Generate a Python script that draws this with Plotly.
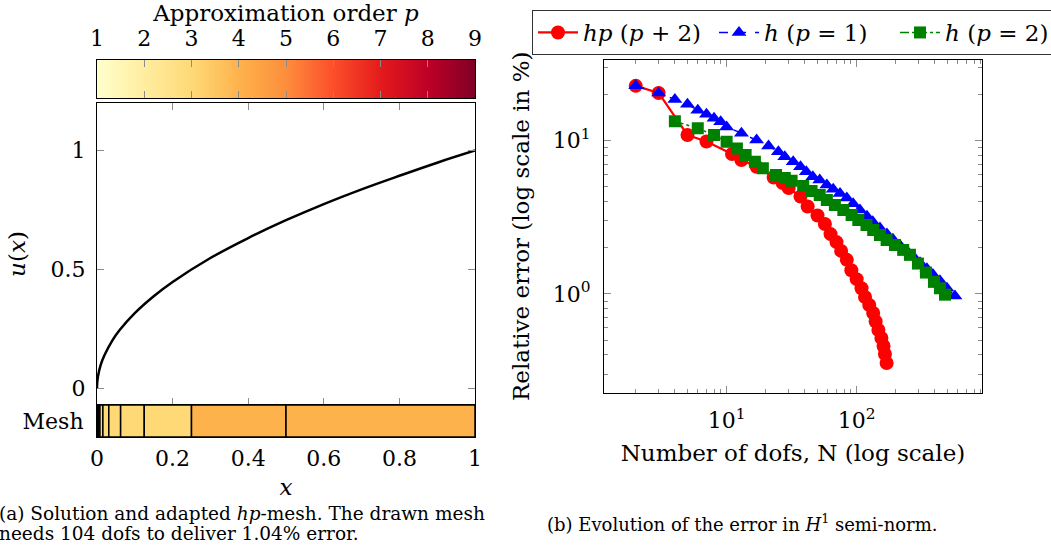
import plotly.graph_objects as go

W, H = 1051, 547
FONT = "DejaVu Serif"

# ---------------- data ----------------
p_levels = [1, 2, 3, 4, 5, 6, 7, 8, 9]

x_sol = [0, 0.0005, 0.0025, 0.01, 0.02, 0.04, 0.06, 0.1, 0.15, 0.2, 0.3, 0.4, 0.5, 0.6, 0.7, 0.8, 0.9, 1.0]
u_sol = [0, 0.022, 0.05, 0.10, 0.14, 0.20, 0.245, 0.316, 0.387, 0.447, 0.548, 0.632, 0.707, 0.775, 0.837, 0.894, 0.949, 1.0]

mesh_left = [0, 0.001953, 0.003906, 0.007813, 0.015625, 0.03125, 0.0625, 0.125, 0.25, 0.5]
mesh_right = [0.001953, 0.003906, 0.007813, 0.015625, 0.03125, 0.0625, 0.125, 0.25, 0.5, 1.0]
mesh_p = [2, 3, 3, 3, 3, 3, 3, 3, 4, 4]

hp_N = [2, 3, 5, 7, 11, 13, 17, 23, 27, 30, 37, 42, 50, 57, 63, 70, 76, 84, 91, 100,
        109, 116, 125, 134, 140, 147, 155, 161, 165, 170]
hp_E = [22.8, 20.5, 10.9, 9.88, 8.19, 7.48, 6.77, 5.75, 5.30, 4.91, 4.32, 3.72, 3.25, 2.86, 2.46,
        2.18, 1.91, 1.67, 1.43, 1.25, 1.09, 0.955, 0.847, 0.751, 0.662, 0.582, 0.516, 0.458, 0.406, 0.355]

h1_N = [2, 3, 4, 5, 6, 7, 8, 9, 10, 13, 17, 21, 25, 28, 32.5, 37, 41, 46, 52, 59, 66, 74.5, 84, 94,
        106, 120, 133, 151, 171, 190, 215, 244, 271, 307, 347, 386, 437, 495, 570]
h1_E = [22.8, 20.5, 18.6, 17.3, 15.8, 14.9, 14.0, 13.3, 12.3, 11.2, 10.1, 9.23, 8.48, 7.87, 7.30, 6.77,
        6.28, 5.82, 5.54, 5.14, 4.83, 4.52, 4.23, 3.88, 3.53, 3.21, 2.96, 2.70, 2.46, 2.28, 2.08, 1.91,
        1.77, 1.60, 1.46, 1.34, 1.22, 1.09, 0.97]

h2_N = [4, 6, 8, 10, 12, 14, 16.5, 19, 24, 28, 31.6, 38.8, 45, 52, 59, 68, 79, 91.5, 103, 119, 134,
        151, 170, 197, 228, 257, 296, 341, 393, 437, 478]
h2_E = [13.4, 12.05, 10.9, 9.85, 8.91, 8.07, 7.30, 6.61, 5.97, 5.72, 5.48, 5.07, 4.70, 4.43, 4.10, 3.81,
        3.53, 3.28, 3.04, 2.82, 2.62, 2.43, 2.25, 2.09, 1.94, 1.80, 1.58, 1.38, 1.20, 1.09, 0.99]

x_ticks = [0, 0.2, 0.4, 0.6, 0.8, 1]
x_ticklabels = ["0", "0.2", "0.4", "0.6", "0.8", "1"]
u_ticks = [0, 0.5, 1]
u_ticklabels = ["0", "0.5", "1"]
N_ticks = [10, 100]
N_ticklabels = ["10<sup>1</sup>", "10<sup>2</sup>"]
E_ticks = [1, 10]
E_ticklabels = ["10<sup>0</sup>", "10<sup>1</sup>"]


# -------------- helpers (layout only) --------------
def fx(px):
    return px / W


def fy(py):
    return 1 - py / H


TICKC = "#8c8c8c"
fig = go.Figure()

# colour bar strip
fig.add_trace(go.Heatmap(z=[p_levels], x=p_levels, y=[0], zsmooth="best",
                         colorscale="YlOrRd", zmin=1, zmax=9, showscale=False,
                         hoverinfo="skip", xaxis="x", yaxis="y"))

# solution curve
fig.add_trace(go.Scatter(x=x_sol, y=u_sol, mode="lines", line=dict(color="black", width=2.5, shape="spline"),
                         showlegend=False, xaxis="x2", yaxis="y2"))

# mesh
fig.add_trace(go.Bar(y=["Mesh"] * len(mesh_left), base=mesh_left,
                     x=[r - l for l, r in zip(mesh_left, mesh_right)], orientation="h", width=1,
                     marker=dict(color=mesh_p, colorscale="YlOrRd", cmin=1, cmax=9,
                                 line=dict(color="black", width=1.5)),
                     showlegend=False, xaxis="x3", yaxis="y3"))

# convergence curves
fig.add_trace(go.Scatter(x=hp_N, y=hp_E, mode="lines+markers", name="<i>hp</i> (<i>p</i> + 2)",
                         line=dict(color="red", width=2.2),
                         marker=dict(symbol="circle", size=14, color="red"),
                         xaxis="x4", yaxis="y4"))
fig.add_trace(go.Scatter(x=h1_N, y=h1_E, mode="lines+markers", name="<i>h</i> (<i>p</i> = 1)",
                         line=dict(color="blue", width=1.5, dash="dash"),
                         marker=dict(symbol="triangle-up", size=13, color="blue"),
                         xaxis="x4", yaxis="y4"))
fig.add_trace(go.Scatter(x=h2_N, y=h2_E, mode="lines+markers", name="<i>h</i> (<i>p</i> = 2)",
                         line=dict(color="green", width=1.5, dash="dashdot"),
                         marker=dict(symbol="square", size=12, color="green"),
                         xaxis="x4", yaxis="y4"))

left_dom = [fx(97), fx(475)]
big = dict(family=FONT, size=22, color="black")
ttl = dict(family=FONT, size=23, color="black")

common = dict(automargin=False, showgrid=False, zeroline=False, showline=True,
              linecolor="black", linewidth=1)

fig.update_layout(
    width=W, height=H, margin=dict(l=0, r=0, t=0, b=0, autoexpand=False),
    paper_bgcolor="white", plot_bgcolor="white",
    font=dict(family=FONT, size=22, color="black"),
    barmode="overlay",
    xaxis=dict(domain=left_dom, anchor="y", range=[1, 9], side="top",
               tickvals=p_levels, ticks="inside", ticklen=7, tickcolor=TICKC, mirror="ticks",
               tickfont=big, ticklabelstandoff=4,
               title=dict(text="Approximation order <i>p</i>", font=ttl, standoff=2), **common),
    yaxis=dict(domain=[fy(98), fy(60)], anchor="x", range=[-0.5, 0.5], showticklabels=False,
               ticks="", mirror=True, **common),
    xaxis2=dict(domain=left_dom, anchor="y2", range=[0, 1], tickvals=[0.2, 0.4, 0.6, 0.8],
                showticklabels=False, ticks="inside", ticklen=7, tickcolor=TICKC, mirror="ticks", **common),
    yaxis2=dict(domain=[fy(405), fy(103)], anchor="x2", range=[-0.07, 1.2], tickvals=u_ticks,
                ticktext=u_ticklabels, ticks="inside", ticklen=7, tickcolor=TICKC, mirror="ticks",
                tickfont=big, ticklabelstandoff=6,
                title=dict(text="<i>u</i>(<i>x</i>)", font=ttl, standoff=18), **common),
    xaxis3=dict(domain=left_dom, anchor="y3", range=[0, 1], tickvals=x_ticks, ticktext=x_ticklabels,
                ticks="", mirror=True, tickfont=big, ticklabelstandoff=2,
                title=dict(text="<i>x</i>", font=ttl, standoff=8), **common),
    yaxis3=dict(domain=[fy(437), fy(405)], anchor="x3", range=[-0.5, 0.5], ticks="",
                mirror=True, tickfont=big, ticklabelstandoff=8, **common),
    xaxis4=dict(domain=[fx(604), fx(982)], anchor="y4", type="log", range=[0.057, 2.964],
                tickvals=N_ticks, ticktext=N_ticklabels, ticks="inside", ticklen=7, tickcolor=TICKC,
                mirror="ticks", minor=dict(ticks="inside", ticklen=4, tickcolor=TICKC, dtick="D1", showgrid=False),
                tickfont=big, ticklabelstandoff=8,
                title=dict(text="Number of dofs, N (log scale)", font=ttl, standoff=12), **common),
    yaxis4=dict(domain=[fy(393), fy(59.5)], anchor="x4", type="log", range=[-0.646, 1.53],
                tickvals=E_ticks, ticktext=E_ticklabels, ticks="inside", ticklen=7, tickcolor=TICKC,
                mirror="ticks", minor=dict(ticks="inside", ticklen=4, tickcolor=TICKC, dtick="D1", showgrid=False),
                tickfont=big, ticklabelstandoff=8,
                title=dict(text="Relative error (log scale in %)", font=ttl, standoff=16), **common),
    legend=dict(orientation="h", x=fx(532), y=fy(10), xanchor="left", yanchor="top",
                bordercolor="#333333", borderwidth=1, bgcolor="white",
                font=dict(family=FONT, size=23, color="black"), itemwidth=40,
                entrywidth=126, entrywidthmode="pixels", tracegroupgap=0),
)

cap = dict(family=FONT, size=18.5, color="black")
capb = dict(family=FONT, size=18, color="black")
fig.add_annotation(text="(a) Solution and adapted <i>hp</i>-mesh. The drawn mesh", x=fx(-3), y=fy(513),
                   xref="paper", yref="paper", xanchor="left", yanchor="middle", showarrow=False, font=cap)
fig.add_annotation(text="needs 104 dofs to deliver 1.04% error.", x=fx(-3), y=fy(533),
                   xref="paper", yref="paper", xanchor="left", yanchor="middle", showarrow=False, font=cap)
fig.add_annotation(text="(b) Evolution of the error in <i>H</i><sup>1</sup> semi-norm.", x=fx(545), y=fy(523),
                   xref="paper", yref="paper", xanchor="left", yanchor="middle", showarrow=False, font=capb)

fig.write_html("out.html", config={"displayModeBar": False},
               post_script="document.body.style.margin='0';document.body.style.overflow='hidden';")
